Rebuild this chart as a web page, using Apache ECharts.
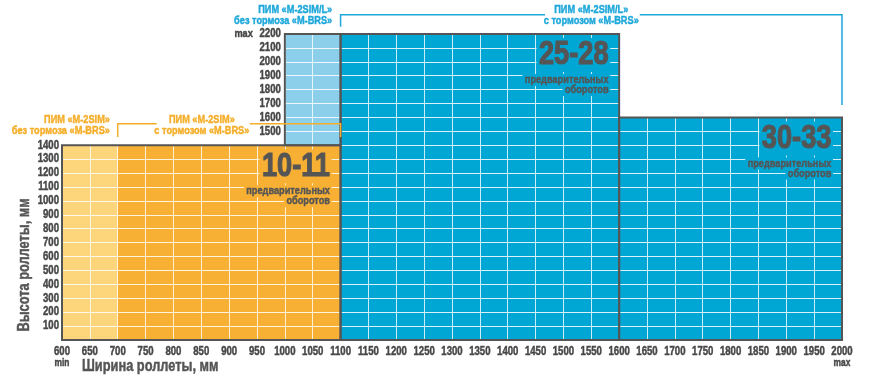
<!DOCTYPE html>
<html><head><meta charset="utf-8">
<script src="https://cdn.jsdelivr.net/npm/echarts@6/dist/echarts.min.js"></script>
<style>html,body{margin:0;padding:0;background:#fff}#c{width:870px;height:381px}</style>
</head><body><div id="c"></div>
<script>
// ---- data ----
const xMin = 600, xMax = 2000, xStep = 50;
const yMin = 0, yMax = 2200, yStep = 100;
const xTickValues = [600, 650, 700, 750, 800, 850, 900, 950, 1000, 1050, 1100, 1150, 1200, 1250, 1300, 1350,
  1400, 1450, 1500, 1550, 1600, 1650, 1700, 1750, 1800, 1850, 1900, 1950, 2000];
const yTickLeft = [100, 200, 300, 400, 500, 600, 700, 800, 900, 1000, 1100, 1200, 1300, 1400];
const yTickInner = [1500, 1600, 1700, 1800, 1900, 2000, 2100, 2200];
const innerAxisX = 1000;       // where the 1500..2200 labels sit
const fillX0 = [600, 700, 1000, 1100, 1600];
const fillX1 = [700, 1100, 1100, 1600, 2000];
const fillY0 = [0, 0, 1400, 0, 0];
const fillY1 = [1400, 1400, 2200, 2200, 1600];
const outlineX0 = [600, 1000, 1100, 1600];
const outlineX1 = [1100, 1100, 1600, 2000];
const outlineY0 = [0, 1400, 0, 0];
const outlineY1 = [1400, 2200, 2200, 1600];
const turnLabels = ['10-11', '25-28', '30-33'];
const turnBoxRight = [1100, 1600, 2000];
const turnBoxTop = [1400, 2200, 1600];
const turnCaption = ['предварительных', 'оборотов'];
const xTitle = 'Ширина роллеты, мм';
const yTitle = 'Высота роллеты, мм';
const minLabel = 'min', maxLabel = 'max';
const noteOrangeA = ['ПИМ «M-2SIM»', 'без тормоза «M-BRS»'];
const noteOrangeB = ['ПИМ «M-2SIM»', 'с тормозом «M-BRS»'];
const noteBlueA = ['ПИМ «M-2SIM/L»', 'без тормоза «M-BRS»'];
const noteBlueB = ['ПИМ «M-2SIM/L»', 'с тормозом «M-BRS»'];
const orangeBracketX = [700, 1100];
const blueBracketX = [1100, 2000];

// ---- styles ----
const fillColors = ['#fdd67c', '#f8b034', '#8ccfeb', '#00a7d5', '#00a7d5'];
const FONT = "'Liberation Sans', Arial, sans-serif";
const SX = 0.8; // condensed look
const txt = '#474747', orange = '#f5ae2a', blue = '#1ea8da';
const G = {left: 62, right: 28, top: 34, bottom: 41};

function T(text, x, y, size, align, vAlign, color, extra) {
  const st = Object.assign({text: text, x: 0, y: 0, align: align, verticalAlign: vAlign,
    font: 'bold ' + size + 'px ' + FONT, fill: color, stroke: color,
    lineWidth: size > 20 ? 1.2 : 0.45}, extra || {});
  return {type: 'text', x: x, y: y, scaleX: SX, style: st};
}

const chart = echarts.init(document.getElementById('c'));
const rectData = (a, b, c, d) => a.map((v, i) => [a[i], b[i], c[i], d[i]]);
function rectItem(api) {
  const p0 = api.coord([api.value(0), api.value(1)]);
  const p1 = api.coord([api.value(2), api.value(3)]);
  return {x: p0[0], y: p1[1], width: p1[0] - p0[0], height: p0[1] - p1[1]};
}

chart.setOption({
  animation: false,
  backgroundColor: '#fff',
  grid: G,
  xAxis: {
    type: 'value', min: xMin, max: xMax, interval: xStep, z: 3,
    axisLine: {show: false}, axisTick: {show: false}, axisLabel: {show: false},
    splitLine: {show: true, lineStyle: {color: 'rgba(255,255,255,0.8)', width: 1}}
  },
  yAxis: {
    type: 'value', min: yMin, max: yMax, interval: yStep, z: 3,
    axisLine: {show: false}, axisTick: {show: false}, axisLabel: {show: false},
    splitLine: {show: true, lineStyle: {color: 'rgba(255,255,255,0.85)', width: 1}}
  },
  series: [{
    type: 'custom', z: 1, data: rectData(fillX0, fillY0, fillX1, fillY1), encode: {x: [0, 2], y: [1, 3]},
    renderItem: (params, api) => ({type: 'rect', shape: rectItem(api), style: {fill: fillColors[params.dataIndex]}})
  }, {
    type: 'custom', z: 5, data: rectData(outlineX0, outlineY0, outlineX1, outlineY1), encode: {x: [0, 2], y: [1, 3]},
    renderItem: (params, api) => ({type: 'rect', shape: rectItem(api), style: {fill: 'none', stroke: '#555', lineWidth: 2}})
  }, {
    type: 'custom', z: 6, data: turnLabels.map((t, i) => [turnBoxRight[i], turnBoxTop[i]]), encode: {x: 0, y: 1},
    renderItem: (params, api) => {
      const p = api.coord([api.value(0), api.value(1)]);
      const bg = params.dataIndex === 0 ? fillColors[1] : fillColors[3];
      const x = p[0] - 9;
      const ex = {backgroundColor: bg, padding: [0, 2, 0, 3]};
      return {type: 'group', children: [
        T(turnLabels[params.dataIndex], x, p[1] + 4, 34, 'right', 'top', '#555', ex),
        T(turnCaption[0], x, p[1] + 40, 11.5, 'right', 'top', '#555', ex),
        T(turnCaption[1], x, p[1] + 50, 11.5, 'right', 'top', '#555', ex)
      ]};
    }
  }, {
    // x tick labels
    type: 'custom', z: 6, data: xTickValues.map(v => [v, yMin]), encode: {x: 0, y: 1},
    renderItem: (params, api) => {
      const v = api.value(0);
      const p = api.coord([v, yMin]);
      const ch = [T(String(v), p[0], p[1] + 12, 12, 'center', 'middle', txt)];
      if (v === xMin) ch.push(T(minLabel, p[0], p[1] + 23, 10.5, 'center', 'middle', txt));
      if (v === xMax) ch.push(T(maxLabel, p[0], p[1] + 23, 10.5, 'center', 'middle', txt));
      return {type: 'group', children: ch};
    }
  }, {
    // y tick labels, left column
    type: 'custom', z: 6, data: yTickLeft.map(v => [xMin, v]), encode: {x: 0, y: 1},
    renderItem: (params, api) => {
      const p = api.coord([api.value(0), api.value(1)]);
      return T(String(api.value(1)), p[0] - 3, p[1], 12, 'right', 'middle', txt);
    }
  }, {
    // y tick labels, inner column
    type: 'custom', z: 6, data: yTickInner.map(v => [innerAxisX, v]), encode: {x: 0, y: 1},
    renderItem: (params, api) => {
      const v = api.value(1);
      const p = api.coord([api.value(0), v]);
      const ch = [T(String(v), p[0] - 4, p[1], 12, 'right', 'middle', txt)];
      if (v === yMax) ch.push(T(maxLabel, p[0] - 32, p[1], 11.5, 'right', 'middle', txt));
      return {type: 'group', children: ch};
    }
  }]
});

// ---- annotations positioned through the chart's scales ----
const px = (x, y) => chart.convertToPixel({gridIndex: 0}, [x, y]);
function note(lines, x, y, align, color) {
  const p = px(x, y);
  return [
    Object.assign(T(lines[0], p[0], p[1], 11.5, align, 'middle', color), {z: 10}),
    Object.assign(T(lines[1], p[0], p[1] + 11, 11.5, align, 'middle', color), {z: 10})
  ];
}
function poly(points, color) {
  return {type: 'polyline', z: 10, shape: {points: points.map(q => px(q[0], q[1]))}, style: {stroke: color, lineWidth: 1.5, fill: 'none'}};
}
const pBottomL = px(xMin, 0);
const yTitleCenter = px(xMin, 540);
const yT = T(yTitle, 25, yTitleCenter[1], 16, 'center', 'middle', '#555');
yT.rotation = Math.PI / 2; yT.z = 10;
const graphics = [].concat(
  note(noteOrangeA, 686, 1582, 'right', orange),
  note(noteOrangeB, 851, 1582, 'center', orange),
  [poly([[orangeBracketX[0], 1460], [orangeBracketX[0], 1555], [770, 1555]], orange),
   poly([[937, 1555], [orangeBracketX[1], 1555], [orangeBracketX[1], 1460]], orange)],
  note(noteBlueA, 1085, 2376, 'right', blue),
  note(noteBlueB, 1550, 2376, 'center', blue),
  [poly([[blueBracketX[0], 2252], [blueBracketX[0], 2338], [1467, 2338]], blue),
   poly([[1637, 2338], [blueBracketX[1], 2338], [blueBracketX[1], 1690]], blue)],
  [Object.assign(T(xTitle, pBottomL[0] + 20, pBottomL[1] + 27, 16, 'left', 'middle', '#555'), {z: 10}), yT]
);
chart.setOption({graphic: graphics});
</script></body></html>
